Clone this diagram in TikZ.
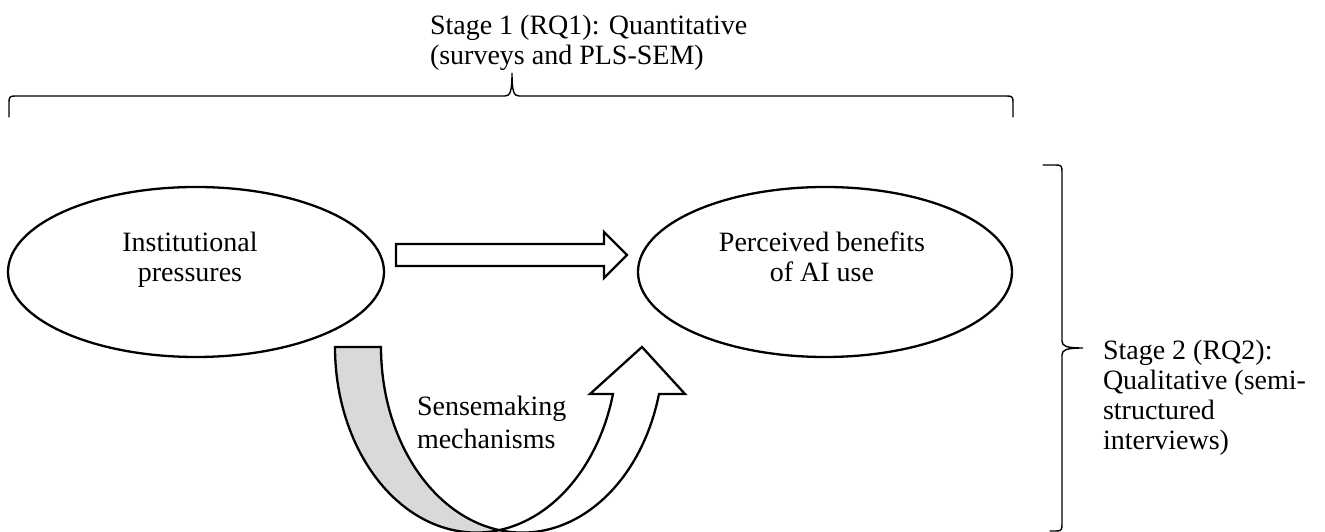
\documentclass[tikz,border=0pt]{standalone}
\usepackage{fontspec}
\setmainfont{Liberation Serif}
\usetikzlibrary{calc,shapes.geometric}
\begin{document}
\begin{tikzpicture}[x=1pt,y=1pt,
  shapeline/.style={line width=2.3pt, line join=miter, miter limit=10},
  braceline/.style={line width=1.4pt, line cap=round},
  bubble/.style={ellipse, draw, shapeline, inner sep=0pt, outer sep=0pt},
  lbl/.style={font=\fontsize{28}{30}\selectfont, inner sep=0pt, outer sep=0pt}]
\useasboundingbox (0,0) rectangle (1325,532);
\clip (0,0) rectangle (1325,532);

% ellipses
\node[bubble, minimum width=376, minimum height=170] (ip) at (196,260) {};
\node[bubble, minimum width=374, minimum height=170] (pb) at (825,260) {};
\node[lbl, align=center, anchor=base] (ipt) at (190,250) {Institutional\\pressures};
\node[lbl, align=center, anchor=base] (pbt) at (822,250) {Perceived benefits\\of AI use};

% straight block arrow
\draw[shapeline] (396,288) -- (604,288) -- (604,300) -- (627,277) -- (604,254) -- (604,266) -- (396,266) -- cycle;

% curved block arrow
\coordinate (cA) at (476.3,185);
\coordinate (cB) at (522.3,185);
\filldraw[fill=black!15, shapeline]
  ($(cA)+(180:141.3 and 185.6)$) arc[start angle=180, end angle=279.37, x radius=141.3, y radius=185.6]
  arc[start angle=260.63, end angle=180, x radius=141.3, y radius=185.6] -- cycle;
\filldraw[fill=white, shapeline]
  ($(cB)+(260.63:141.3 and 185.6)$) arc[start angle=260.63, end angle=345.33, x radius=141.3, y radius=185.6]
  -- (685,138) -- (642,185) -- (590,138)
  -- ($(cA)+(345.33:141.3 and 185.6)$) arc[start angle=345.33, end angle=279.37, x radius=141.3, y radius=185.6] -- cycle;
\node[lbl, align=left, anchor=base west, font=\fontsize{28}{33.5}\selectfont] (sm) at (417,83) {Sensemaking\\mechanisms};

% top brace
\coordinate (tbL) at (9,415);
\coordinate (tbR) at (1013,415);
\coordinate (tbT) at (512,459);
\draw[braceline] (tbL) -- (9,430) .. controls (9,435) and (10,436) .. (15,436)
  -- (505,436) .. controls (510,436) and (512,440) .. (tbT)
  .. controls (512,440) and (514,436) .. (519,436)
  -- (1007,436) .. controls (1012,436) and (1013,435) .. (1013,430) -- (tbR);
\node[lbl, align=left, anchor=base west] (s1) at (430,467) {Stage 1 (RQ1): Quantitative\\(surveys and PLS-SEM)};

% right brace
\coordinate (rbT) at (1043,367);
\coordinate (rbB) at (1050,1);
\coordinate (rbM) at (1083,184);
\draw[braceline] (rbT) -- (1056,367) .. controls (1061,367) and (1062,366) .. (1062,361)
  -- (1062,191) .. controls (1062,186) and (1066,184) .. (rbM)
  .. controls (1066,184) and (1062,182) .. (1062,177)
  -- (1062,7) .. controls (1062,2) and (1061,1) .. (1056,1) -- (rbB);
\node[lbl, align=left, anchor=base west] (s2) at (1103,82) {Stage 2 (RQ2):\\Qualitative (semi-\\structured\\interviews)};
\end{tikzpicture}
\end{document}
